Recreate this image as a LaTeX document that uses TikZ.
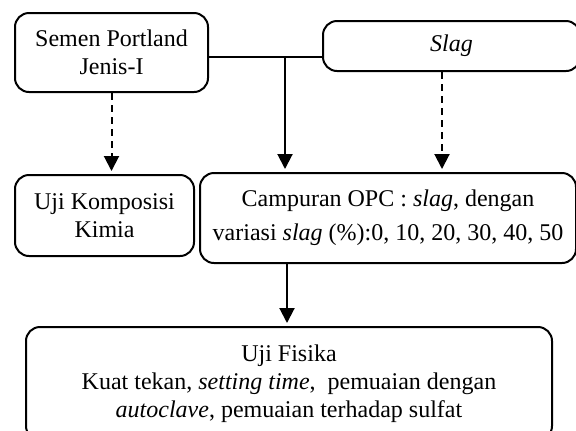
\documentclass[tikz,border=0pt]{standalone}
\usepackage{fontspec}
\setmainfont{Liberation Serif}
\usetikzlibrary{arrows.meta}
\begin{document}
\begin{tikzpicture}[x=0.5pt,y=-0.5pt,
  box/.style={draw, line width=1pt, rounded corners=7pt, align=center, inner sep=0pt,
    font=\fontsize{12}{14}\selectfont},
  arr/.style={line width=1pt, -{Triangle[width=7.5pt,length=7.5pt]}, shorten >=1.5pt},
  darr/.style={arr, dash pattern=on 3.5pt off 2.5pt}]
\useasboundingbox (0,0) rectangle (576,430);
\node[box, minimum width=96.5pt, minimum height=39.5pt] (sp) at (111.5,52.5) {Semen Portland\\Jenis-I};
\node[box, minimum width=128.5pt, minimum height=25pt] (slag) at (451.5,46) {\textit{Slag}};
\node[box, minimum width=89.5pt, minimum height=40.5pt] (komp) at (104.5,215.5) {Uji Komposisi\\Kimia};
\node[box, minimum width=188pt, minimum height=45pt] (camp) at (388,218)
  {Campuran OPC : \textit{slag}, dengan\\[3pt]variasi \textit{slag} (\%):0, 10, 20, 30, 40, 50};
\node[box, minimum width=263pt, minimum height=56.5pt] (fis) at (289,383.5)
  {Uji Fisika\\Kuat tekan, \textit{setting time},\ \ pemuaian dengan\\\textit{autoclave}, pemuaian terhadap sulfat};
\coordinate (j) at (285,57);
\coordinate (s2) at (442,0);
\coordinate (c2) at (287,0);
\draw[line width=1pt] (sp.east |- j) -- (slag.west |- j);
\draw[arr] (j) -- (camp.north -| j);
\draw[darr] (sp.south) -- (sp.south |- komp.north);
\draw[darr] (slag.south -| s2) -- (camp.north -| s2);
\draw[arr] (camp.south -| c2) -- (fis.north -| c2);
\end{tikzpicture}
\end{document}
